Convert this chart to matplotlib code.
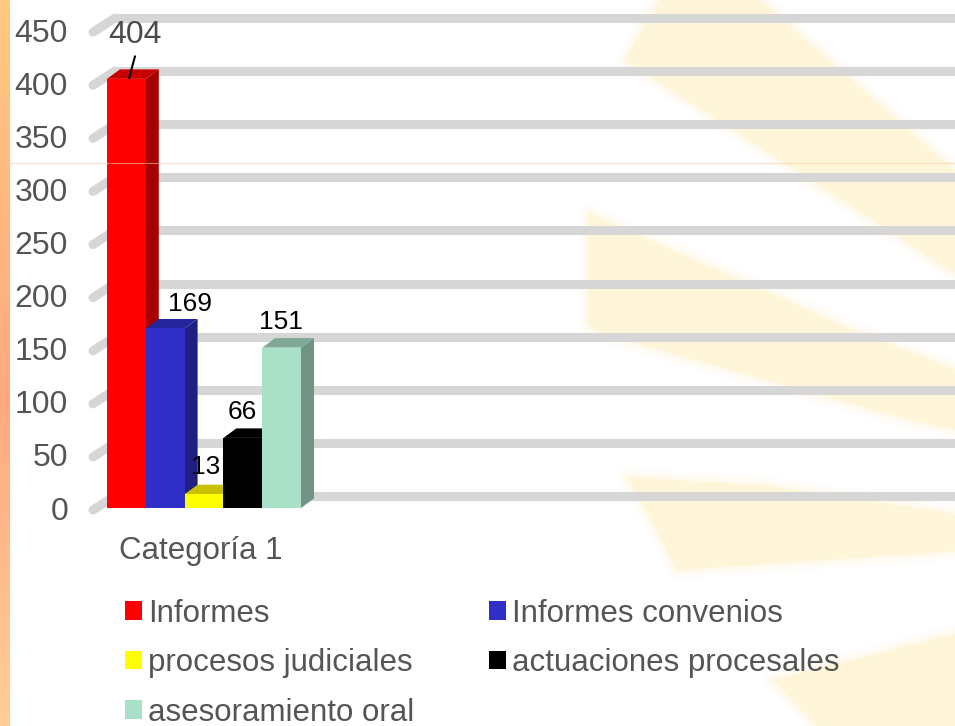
import numpy as np
import matplotlib
matplotlib.use("Agg")
import matplotlib.pyplot as plt
from matplotlib.lines import Line2D
from matplotlib.patches import Polygon

# datos
CATEGORIA = "Categoría 1"
SERIES = ["Informes", "Informes convenios", "procesos judiciales",
          "actuaciones procesales", "asesoramiento oral"]
VALORES = [404, 169, 13, 66, 151]
TICKS_Y = [0, 50, 100, 150, 200, 250, 300, 350, 400, 450]

COLOR_FRENTE = ["#ff0000", "#3030c8", "#ffff00", "#000000", "#a8e0c8"]
COLOR_LADO = ["#a60000", "#1f1f82", "#a8a800", "#000000", "#6f9484"]
COLOR_TECHO = ["#c80000", "#26269c", "#c8c000", "#000000", "#80a896"]

W, H = 955, 726
IZQ, BASE, TOPE = 107, 508, 30   # pixeles del plano frontal
ANCHO_BARRA = 38.8
PX_Y = (BASE - TOPE) / 450
FONDO_DX = 13 / ANCHO_BARRA      # profundidad 3D de las barras
FONDO_DY = 9.5 / PX_Y

plt.rcParams["font.family"] = ["Liberation Sans", "DejaVu Sans"]

fig = plt.figure(figsize=(W / 100, H / 100), dpi=100, facecolor="white")

# ===================================================================
# FONDO
# ===================================================================
bg = fig.add_axes([0, 0, 1, 1], zorder=0)
bg.set_xlim(0, W)
bg.set_ylim(H, 0)
bg.axis("off")

manchas = [
    [(660, 0), (625, 60), (955, 273), (955, 171), (760, 0)],
    [(588, 213), (588, 324), (600, 333), (767, 380), (900, 417), (955, 430),
     (955, 370), (850, 329)],
    [(627, 477), (653, 523), (677, 570), (955, 551), (955, 514), (767, 486)],
    [(773, 680), (817, 726), (955, 726), (955, 634)],
]
for m in manchas:
    for lw, alpha in [(14, 0.12), (8, 0.2), (3, 0.3)]:
        bg.add_patch(Polygon(m, closed=True, facecolor="none", edgecolor="#fff5d8",
                             lw=lw, alpha=alpha, joinstyle="round"))
    bg.add_patch(Polygon(m, closed=True, facecolor="#fff5d8", edgecolor="none"))

franja = np.ones((H, 1, 3))
franja[:, 0, 0] = 1.0
franja[:, 0, 1] = np.interp(np.arange(H), [0, 400, 726], [0.79, 0.66, 0.81])
franja[:, 0, 2] = np.interp(np.arange(H), [0, 400, 726], [0.50, 0.50, 0.60])
bg.imshow(franja, extent=(0, 9, H, 0), aspect="auto", zorder=3)
bg.set_xlim(0, W)
bg.set_ylim(H, 0)

# ===================================================================
# GRAFICO
# ===================================================================
ax = fig.add_axes([IZQ / W, 1 - BASE / H, (W - IZQ) / W, (BASE - TOPE) / H], zorder=1)
ax.patch.set_alpha(0)
ax.set_xlim(0, (W - IZQ) / ANCHO_BARRA)
ax.set_ylim(0, 450)
for s in ax.spines.values():
    s.set_visible(False)

# lineas de rejilla en perspectiva
gris = "#d6d6d6"
pared = 12 / PX_Y
for v in TICKS_Y:
    ax.plot([-14 / ANCHO_BARRA, 8 / ANCHO_BARRA], [v - 2, v + pared], color=gris, lw=6.5,
            solid_capstyle="round", clip_on=False, zorder=1)
    ax.plot([8 / ANCHO_BARRA, ax.get_xlim()[1]], [v + pared, v + pared], color=gris, lw=6.5,
            solid_capstyle="butt", clip_on=False, zorder=1)

# barras con caras laterales
for i, v in enumerate(VALORES):
    z = 3 + i
    ax.bar(i, v, width=1, align="edge", color=COLOR_FRENTE[i], label=SERIES[i],
           zorder=z + 0.2)
    ax.fill([i + 1, i + 1 + FONDO_DX, i + 1 + FONDO_DX, i + 1],
            [0, FONDO_DY, v + FONDO_DY, v], color=COLOR_LADO[i], lw=0,
            clip_on=False, zorder=z)
    ax.fill([i, i + FONDO_DX, i + 1 + FONDO_DX, i + 1],
            [v, v + FONDO_DY, v + FONDO_DY, v], color=COLOR_TECHO[i], lw=0,
            clip_on=False, zorder=z)

# etiquetas de datos
ax.text(0.72, 445, str(VALORES[0]), fontsize=23, color="#4a4a4a", ha="center", va="center",
        zorder=20, clip_on=False)
ax.plot([0.57, 0.72], [VALORES[0] + 1, VALORES[0] + 21], color="black", lw=1.5,
        clip_on=False, zorder=20)
desplaz = {1: (2.14, 23), 2: (2.55, 26), 3: (3.48, 24), 4: (4.49, 24)}
for i, (xt, dy) in desplaz.items():
    ax.text(xt, VALORES[i] + dy, str(VALORES[i]), fontsize=19, color="black", ha="center",
            va="center", zorder=20, clip_on=False)

ax.set_yticks(TICKS_Y)
ax.set_xticks([2.41])
ax.set_xticklabels([CATEGORIA])
ax.tick_params(axis="y", length=0, pad=28, labelsize=23, labelcolor="#555555")
ax.tick_params(axis="x", length=0, pad=20, labelsize=22.5, labelcolor="#555555")

# leyenda
h, l = ax.get_legend_handles_labels()
orden = [0, 2, 4, 1, 3]
ley = ax.legend([h[i] for i in orden], [l[i] for i in orden], ncol=2, frameon=False,
                fontsize=22.5, loc="upper left", bbox_to_anchor=(0.021, -0.19),
                borderpad=0, borderaxespad=0, handlelength=0.54, handleheight=0.54,
                handletextpad=0.2, labelspacing=0.62, columnspacing=2.4)
for t in ley.get_texts():
    t.set_color("#555555")

# linea tenue que cruza la pagina
fig.add_artist(Line2D([9 / W, 1], [1 - 162.5 / H, 1 - 162.5 / H], color="#fbc9a0",
                      lw=0.8, alpha=0.6, zorder=5))

fig.savefig("out.png", dpi=100)
